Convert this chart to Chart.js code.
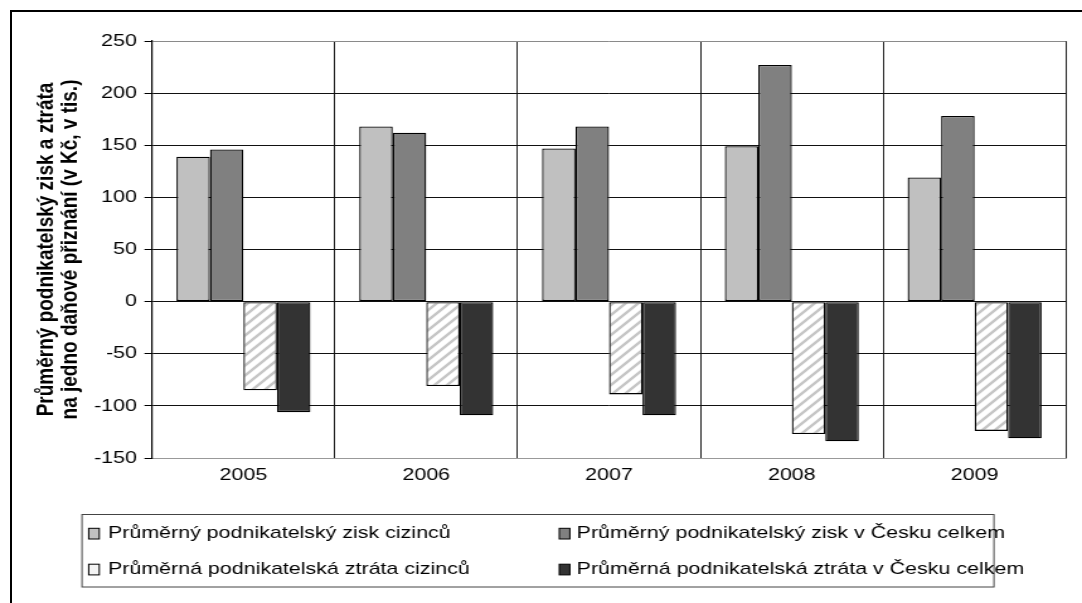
<!DOCTYPE html>
<html>
<head>
<meta charset="utf-8">
<script src="https://cdn.jsdelivr.net/npm/chart.js@4/dist/chart.umd.min.js"></script>
<style>
  html, body { margin: 0; padding: 0; background: #fff; overflow: hidden; width: 1082px; height: 603px; }
  #frame { position: absolute; left: 10px; top: 10px; width: 1200px; height: 700px; border-left: 2px solid #000; border-top: 2px solid #000; }
  #wrap { position: absolute; left: 0; top: 0; width: 859px; height: 603px; transform: scaleX(1.2596); transform-origin: 0 0; }
</style>
</head>
<body>
<div id="frame"></div>
<div id="wrap"><canvas id="c" width="859" height="603"></canvas></div>
<script>
// ---- data ----
const years = ['2005', '2006', '2007', '2008', '2009'];
const ziskCizincu = [139, 168, 147, 149, 119];
const ziskCesko = [146, 162, 168, 227, 178];
const ztrataCizincu = [-85, -81, -89, -127, -124];
const ztrataCesko = [-106, -109, -109, -134, -131];
const seriesLabels = [
  'Průměrný podnikatelský zisk cizinců',
  'Průměrný podnikatelský zisk v Česku celkem',
  'Průměrná podnikatelská ztráta cizinců',
  'Průměrná podnikatelská ztráta v Česku celkem'
];
const yTitle = ['Průměrný podnikatelský zisk a ztráta', 'na jedno daňové přiznání (v Kč, v tis.)'];
const yMin = -150, yMax = 250, yStep = 50;

const FONT = "'Liberation Sans', Arial, sans-serif";
const canvas = document.getElementById('c');
const ctx = canvas.getContext('2d');

function hatchPattern() {
  const t = document.createElement('canvas');
  t.width = 10; t.height = 10;
  const x = t.getContext('2d');
  x.fillStyle = '#fff'; x.fillRect(0, 0, 10, 10);
  x.strokeStyle = '#c6c6c6'; x.lineWidth = 2.4;
  x.beginPath();
  x.moveTo(-2, 12); x.lineTo(12, -2);
  x.moveTo(-2, 2); x.lineTo(2, -2);
  x.moveTo(8, 12); x.lineTo(12, 8);
  x.stroke();
  return ctx.createPattern(t, 'repeat');
}
const hatch = hatchPattern();

const fills = ['#c0c0c0', '#808080', hatch, '#333333'];
const swatchFills = ['#c0c0c0', '#808080', '#f4f4f4', '#333333'];
const values = [ziskCizincu, ziskCesko, ztrataCizincu, ztrataCesko];

const datasets = values.map((v, i) => ({
  label: seriesLabels[i],
  data: v,
  backgroundColor: fills[i],
  borderColor: '#000',
  borderWidth: 1.3,
  borderSkipped: false,
  categoryPercentage: 0.733,
  barPercentage: 1.0
}));

const boxLegend = {
  id: 'boxLegend',
  afterDraw(chart) {
    const c = chart.ctx;
    c.save();
    c.strokeStyle = '#444';
    c.lineWidth = 1;
    c.strokeRect(65.1, 514.5, 724, 72.5);
    c.font = '17px ' + FONT;
    c.textBaseline = 'alphabetic';
    c.textAlign = 'left';
    const colSw = [70.4, 444.0];
    const colTx = [85.7, 457.8];
    const rowBase = [537.5, 573.5];
    const rowSw = [528.3, 564.2];
    chart.data.datasets.forEach((ds, i) => {
      const col = i % 2, row = Math.floor(i / 2);
      c.fillStyle = swatchFills[i];
      c.fillRect(colSw[col], rowSw[row], 8.4, 10.7);
      c.strokeStyle = '#000';
      c.lineWidth = 1;
      c.strokeRect(colSw[col], rowSw[row], 8.4, 10.7);
      c.fillStyle = '#000';
      c.fillText(ds.label, colTx[col], rowBase[row]);
    });
    c.restore();
  }
};

Chart.defaults.color = '#000';
Chart.defaults.font.family = FONT;

new Chart(canvas, {
  type: 'bar',
  data: { labels: years, datasets },
  plugins: [boxLegend],
  options: {
    responsive: false,
    animation: false,
    devicePixelRatio: 1,
    layout: { padding: { left: 16, right: 12.7, top: 41, bottom: 95 } },
    plugins: { legend: { display: false }, tooltip: { enabled: false } },
    scales: {
      x: {
        grid: {
          offset: true,
          drawTicks: false,
          color: c => (c.index === years.length ? '#8a8a8a' : '#222'),
          lineWidth: 1
        },
        border: { display: true, color: '#999', width: 1 },
        ticks: { font: { size: 17, family: FONT }, color: '#000', padding: 7 },
        afterFit: s => { s.height = 50; }
      },
      y: {
        min: yMin, max: yMax,
        ticks: { stepSize: yStep, font: { size: 17, family: FONT }, color: '#000', padding: 6 },
        grid: {
          color: c => ((c.tick && (c.tick.value === yMax || c.tick.value === yMin)) ? '#8a8a8a' : '#111'),
          tickColor: '#000',
          tickLength: 6,
          lineWidth: 1
        },
        border: { display: true, color: '#000', width: 1.2 },
        title: {
          display: true,
          text: yTitle,
          font: { size: 19, weight: 'bold', family: FONT, lineHeight: 1.04 },
          color: '#000',
          padding: { top: 10.6, bottom: 0 }
        },
        afterFit: s => { s.width = 104.7; }
      }
    }
  }
});
</script>
</body>
</html>
